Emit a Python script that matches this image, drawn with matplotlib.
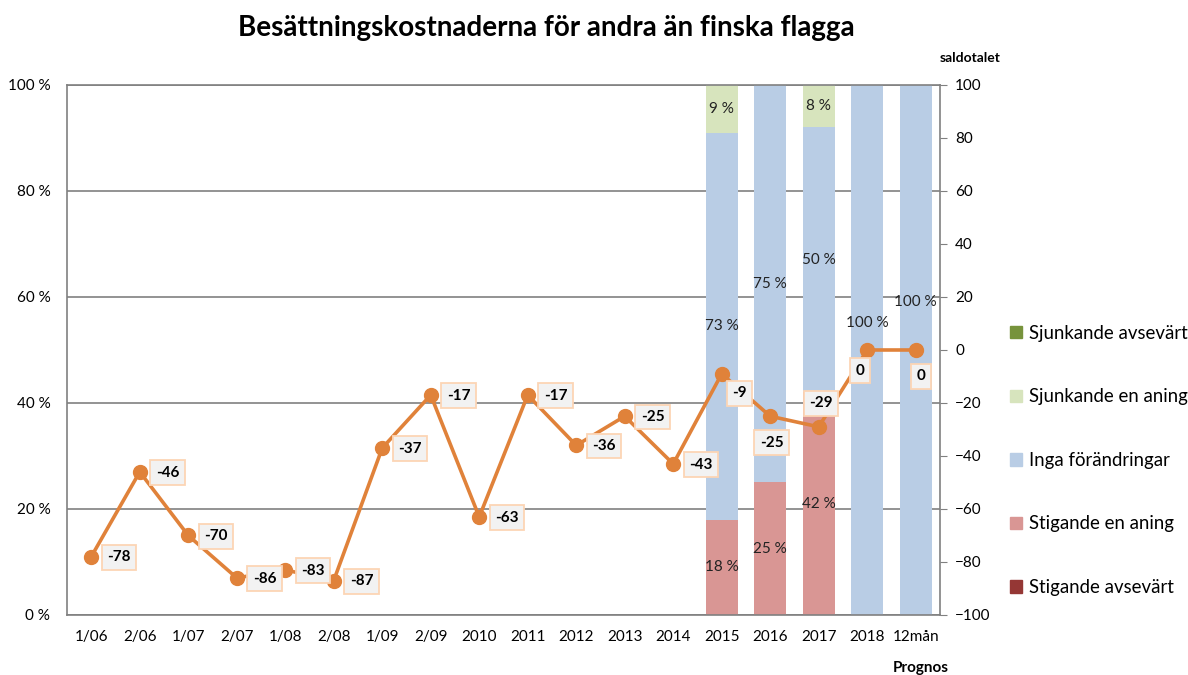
import matplotlib
matplotlib.use("Agg")
import matplotlib.pyplot as plt
import numpy as np
from matplotlib.patches import Patch

plt.rcParams['font.family'] = ['Lato', 'DejaVu Sans']

categories = ["1/06", "2/06", "1/07", "2/07", "1/08", "2/08", "1/09", "2/09", "2010",
              "2011", "2012", "2013", "2014", "2015", "2016", "2017", "2018", "12mån"]
saldotal = [-78, -46, -70, -86, -83, -87, -37, -17, -63, -17, -36, -25, -43, -9, -25, -29, 0, 0]

stigande_avsevart = [0]*13 + [0, 0, 0, 0, 0]
stigande_en_aning = [0]*13 + [18, 25, 42, 0, 0]
inga_forandringar = [0]*13 + [73, 75, 50, 100, 100]
sjunkande_en_aning = [0]*13 + [9, 0, 8, 0, 0]
sjunkande_avsevart = [0]*13 + [0, 0, 0, 0, 0]

series = [
    ("Stigande avsevärt", stigande_avsevart, "#953735"),
    ("Stigande en aning", stigande_en_aning, "#D99694"),
    ("Inga förändringar", inga_forandringar, "#B9CDE5"),
    ("Sjunkande en aning", sjunkande_en_aning, "#D7E4BD"),
    ("Sjunkande avsevärt", sjunkande_avsevart, "#77933C"),
]

fig = plt.figure(figsize=(11.88, 6.75), dpi=100)
ax = fig.add_axes([0.0564, 0.0889, 0.7348, 0.7852])
x = np.arange(len(categories))

bottom = np.zeros(len(categories))
for name, vals, col in series:
    v = np.array(vals, dtype=float)
    ax.bar(x, v, bottom=bottom, width=0.66, color=col, zorder=2)
    for i in range(len(x)):
        if v[i] > 0:
            yc = bottom[i] + v[i] / 2
            if v[i] == 100:
                yc += 5 if i == 16 else 9
            ax.text(x[i], yc, f"{int(v[i])} %", ha="center", va="center",
                    fontsize=11, color="#222222", zorder=3)
    bottom += v

ax.set_xlim(-0.5, len(categories) - 0.5)
ax.set_ylim(0, 100)
ax.set_yticks(np.arange(0, 101, 20))
ax.set_yticklabels([f"{t} %" for t in range(0, 101, 20)], fontsize=11)
ax.set_xticks(x)
ax.set_xticklabels(categories, fontsize=11)
ax.tick_params(axis='x', length=0, pad=11)
ax.tick_params(axis='y', length=0, pad=12)
ax.yaxis.grid(True, color="#808080", linewidth=1.2, zorder=1)
ax.set_axisbelow(True)
for s in ["left", "bottom", "top"]:
    ax.spines[s].set_color("#808080")
    ax.spines[s].set_linewidth(1.2)
ax.spines["right"].set_visible(False)

# label offsets (points) per point
offsets = {13: (13, -14), 14: (1, -19), 15: (1.5, 17), 16: (-5, -15), 17: (4, -19)}

ax2 = ax.twinx()
ax2.plot(x, saldotal, color="#E0823A", linewidth=2.6, marker="o", markersize=10, zorder=5)
for i, (xi, yi) in enumerate(zip(x, saldotal)):
    off = offsets.get(i, (20, -0.5))
    ax2.annotate(f"{yi}", (xi, yi), xytext=off, textcoords="offset points",
                 ha="center", va="center", fontsize=11, fontweight="bold", color="black",
                 bbox=dict(boxstyle="square,pad=0.35", fc="#F2F2F2", ec="#FCD5B5", lw=1.3),
                 zorder=6)
ax2.set_ylim(-100, 100)
ax2.set_yticks(np.arange(-100, 101, 20))
ax2.tick_params(axis='y', labelsize=11, length=5, color="#808080", pad=6)
ax2.spines["right"].set_color("#808080")
ax2.spines["right"].set_linewidth(1.2)
for s in ["left", "top", "bottom"]:
    ax2.spines[s].set_visible(False)

fig.text(0.46, 0.958, "Besättningskostnaderna för andra än finska flagga", ha="center",
         va="center", fontsize=20, fontweight="bold")
fig.text(0.817, 0.914, "saldotalet", ha="center", va="center", fontsize=10, fontweight="bold")
fig.text(0.775, 0.01, "Prognos", ha="center", va="center", fontsize=11, fontweight="bold")

handles = [Patch(color=col, label=name) for name, vals, col in reversed(series)]
fig.legend(handles=handles, loc="center left", bbox_to_anchor=(0.836, 0.318),
           frameon=False, fontsize=13.4, handlelength=0.65, handleheight=0.65,
           handletextpad=0.35, labelspacing=2.5)

fig.savefig("out.png", dpi=100)
